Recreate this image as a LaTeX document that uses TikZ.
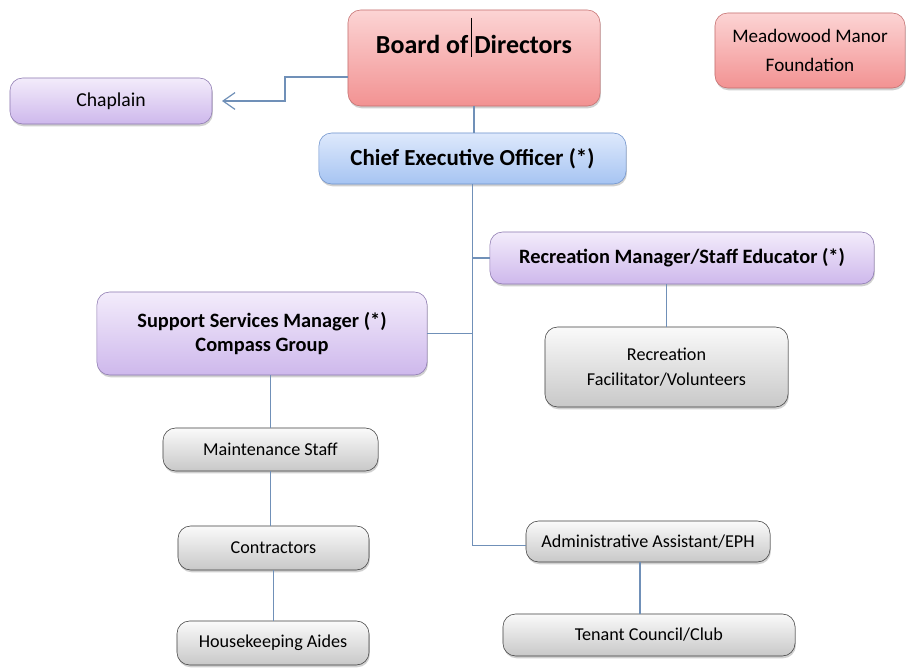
\documentclass[tikz,border=0pt]{standalone}
\usepackage{fontspec}
\setmainfont{Carlito}
\usetikzlibrary{arrows.meta,shadows}

\definecolor{linkblue}{RGB}{112,144,184}
\definecolor{pinktop}{RGB}{252,212,212}
\definecolor{pinkbot}{RGB}{242,146,146}
\definecolor{pinkline}{RGB}{196,110,110}
\definecolor{bluetop}{RGB}{222,233,252}
\definecolor{bluebot}{RGB}{166,196,242}
\definecolor{blueline}{RGB}{110,146,204}
\definecolor{purptop}{RGB}{243,236,251}
\definecolor{purpbot}{RGB}{206,184,236}
\definecolor{purpline}{RGB}{140,120,176}
\definecolor{greytop}{RGB}{250,250,250}
\definecolor{greybot}{RGB}{200,200,200}

\begin{document}
\begin{tikzpicture}[x=0.025cm,y=-0.025cm,
        box/.style={rounded corners=9pt,inner sep=0pt,align=center,
            drop shadow={shadow xshift=0.6pt,shadow yshift=-1.6pt,opacity=0.3,fill=black!60}},
        pinkbox/.style={box,draw=pinkline,top color=pinktop,bottom color=pinkbot},
        bluebox/.style={box,draw=blueline,top color=bluetop,bottom color=bluebot},
        purpbox/.style={box,draw=purpline,top color=purptop,bottom color=purpbot},
        greybox/.style={box,draw=black!75,top color=greytop,bottom color=greybot,
            font=\fontsize{12.9}{17.8}\selectfont},
        head/.style={font=\bfseries\fontsize{14.5}{17}\selectfont},
        link/.style={draw=linkblue,line width=0.85pt}]
    \fill[white] (0,0) rectangle (920,669);
    \useasboundingbox (0,0) rectangle (920,669);

    \node[pinkbox,minimum width=6.3cm,minimum height=2.4cm,
          font=\bfseries\fontsize{18.5}{22}\selectfont,
          text height=0.49cm,text depth=0.69cm] (board) at (474,58) {Board of Directors};
    \node[pinkbox,minimum width=4.75cm,minimum height=1.875cm,
          font=\fontsize{13.6}{21}\selectfont] (found) at (810,50.5) {Meadowood Manor\\Foundation};
    \node[purpbox,minimum width=5.05cm,minimum height=1.15cm,
          font=\fontsize{14}{17}\selectfont] (chap) at (111,101) {Chaplain};
    \node[bluebox,font=\bfseries\fontsize{16.3}{19}\selectfont,
          minimum width=7.675cm,minimum height=1.275cm] (ceo) at (472.5,158.5) {Chief Executive Officer (*)};
    \node[purpbox,head,minimum width=9.6cm,minimum height=1.3cm] (recmgr) at (682,258) {Recreation Manager/Staff Educator (*)};
    \node[purpbox,head,minimum width=8.25cm,minimum height=2.075cm] (ssm) at (262,333.5) {Support Services Manager (*)\\Compass Group};
    \node[greybox,minimum width=6.075cm,minimum height=2cm] (recfac) at (666.5,367) {Recreation\\Facilitator/Volunteers};
    \node[greybox,minimum width=5.375cm,minimum height=1.075cm] (maint) at (270.5,449.5) {Maintenance Staff};
    \node[greybox,minimum width=4.775cm,minimum height=1.1cm] (contr) at (273.5,548) {Contractors};
    \node[greybox,minimum width=4.8cm,minimum height=1.1cm] (house) at (273,643) {Housekeeping Aides};
    \node[greybox,minimum width=6.1cm,minimum height=1.025cm] (admin) at (648,541.5) {Administrative Assistant/EPH};
    \node[greybox,minimum width=7.3cm,minimum height=1.05cm] (tenant) at (649,635) {Tenant Council/Club};

    % text cursor left in the board box
    \draw[black,line width=0.6pt] (471.5,18) -- (471.5,57);

    \coordinate (jog) at (285,101);
    \coordinate (chaptip) at (222,101);
    \draw[link,-{Straight Barb[length=3mm,width=4.2mm]}] ([yshift=-0.475cm]board.west) -| (jog) -- (chaptip);
    \draw[link] (board.south) -- (board.south |- ceo.north);
    \draw[link] (ceo.south) |- ([yshift=-0.1cm]admin.west);
    \draw[link] (recmgr.west) -| (ceo.south);
    \draw[link] (ssm.east) -| (ceo.south);
    \draw[link] (recmgr.south -| recfac.north) -- (recfac.north);
    \draw[link] (ssm.south -| maint.north) -- (maint.north);
    \draw[link] (maint.south) -- (maint.south |- contr.north);
    \draw[link] (contr.south) -- (contr.south |- house.north);
    \draw[link] (admin.south -| 640,0) -- (tenant.north -| 640,0);
\end{tikzpicture}
\end{document}
